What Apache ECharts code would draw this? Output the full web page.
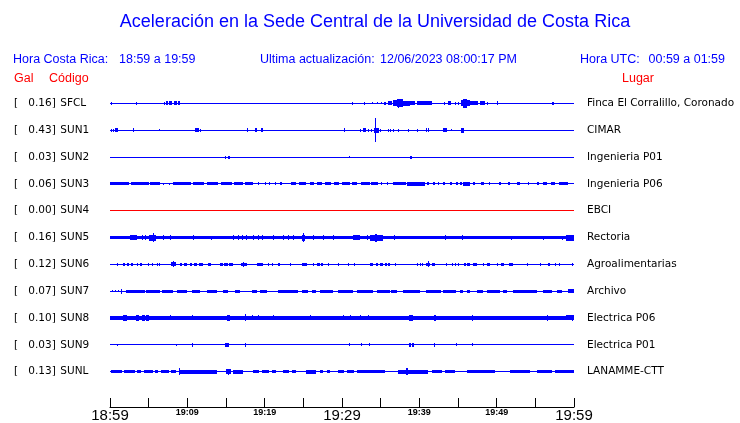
<!DOCTYPE html>
<html><head><meta charset="utf-8">
<script src="https://cdn.jsdelivr.net/npm/echarts@6/dist/echarts.min.js"></script>
<style>html,body{margin:0;padding:0;background:#fff}#c{width:740px;height:423px}</style>
</head><body><div id="c"></div>
<script>
// ---------- DATA ----------
const titleText = 'Aceleración en la Sede Central de la Universidad de Costa Rica';
const headerLocal = ['Hora Costa Rica:', '18:59 a 19:59'];
const headerUpdate = ['Ultima actualización:', '12/06/2023 08:00:17 PM'];
const headerUTC = ['Hora UTC:', '00:59 a 01:59'];
const colHeaders = ['Gal', 'Código', 'Lugar'];
const startMinute = 18 * 60 + 59;   // 18:59 local
const spanMinutes = 60;

const codes = ['SFCL','SUN1','SUN2','SUN3','SUN4','SUN5','SUN6','SUN7','SUN8','SUN9','SUNL'];
const galValues = ['0.16','0.43','0.03','0.06','0.00','0.16','0.12','0.07','0.10','0.03','0.13'];
const places = ['Finca El Corralillo, Coronado','CIMAR','Ingenieria P01','Ingenieria P06','EBCI',
  'Rectoria','Agroalimentarias','Archivo','Electrica P06','Electrica P01','LANAMME-CTT'];
// background noise half-amplitude per station (trace units, 27 per row)
const noiseFloor = [0.5,0.5,0.5,0.5,0.5,1.7,0.5,0.5,2.0,0.5,0.5];

// bursts per station: [start minute, end minute, half amplitude]
const evSFCL = [[0.1,0.1,1.5],[3.3,3.3,1.5],[7.0,7.0,1.5],[7.2,7.5,1.8],[7.6,8.0,1.8],[8.3,8.7,1.8],[8.8,9.05,1.8],
  [31.3,31.3,1.5],[32.8,33.0,1.5],[33.9,33.9,1.2],[34.5,34.5,1.2],[35.0,35.0,1.2],[35.4,35.7,1.5],
  [35.9,36.5,2],[36.6,37.1,3],[37.1,37.9,4],[37.3,37.4,4.5],[37.9,38.8,2.5],[38.8,39.5,2],[39.7,40.1,1.8],[40.1,41.6,2],
  [43.2,43.2,1.5],[43.7,44.1,2],[44.6,44.6,1.5],[45.0,45.0,1.5],[45.4,45.7,3],[45.7,46.1,4.5],[46.1,46.6,3],
  [46.6,47.6,2.2],[47.8,48.5,1.8],[48.7,48.7,1.5],[50.0,50.0,2],[57.2,57.45,1.5]];
const evSUN1 = [[0.1,0.1,1.5],[0.4,0.4,1.5],[0.7,1.0,2],[3.0,3.0,2],[6.35,6.35,1],[11.0,11.2,2],[11.3,11.5,2],[11.6,11.6,1.5],
  [17.75,17.75,2],[18.75,19.0,2],[19.5,19.8,2],[30.3,30.3,2],[32.3,32.3,1.5],[32.75,33.1,2],[33.4,33.4,1.5],[33.75,33.75,1.5],
  [34.1,34.75,2.5],[34.3,34.3,12.3],[34.9,34.9,1.5],[35.9,35.9,1.5],[36.2,36.2,1.5],[36.6,36.6,1.5],[37.25,37.25,1.5],
  [38.55,38.55,1.5],[39.65,39.65,1.5],[40.85,40.85,2],[41.1,41.1,2],[43.1,43.6,2],[44.1,44.1,1],[45.35,45.8,2.5]];
const evSUN2 = [[14.85,14.85,1.5],[15.2,15.5,1.5],[30.9,30.9,1],[38.85,39.0,1.5]];
const evSUN3 = [[0,2.5,1.5],[2.7,5.0,1.5],[5.2,6.5,1.4],[6.9,7.0,1.2],[7.6,7.8,1.2],[8.1,10.5,1.5],[10.7,12.2,1.5],
  [12.5,14.0,1.4],[14.3,15.8,1.5],[16.0,17.2,1.3],[17.5,18.5,1.5],[19.2,19.3,1.3],[20.0,20.1,1.3],[20.6,20.7,1.3],
  [21.3,21.4,1.3],[22.0,22.3,1.3],[23.4,24.0,1.4],[24.4,25.3,1.4],[25.8,26.4,1.4],[26.8,27.4,1.4],[27.8,28.6,1.4],
  [29.0,29.6,1.4],[30.0,31.0,1.5],[31.3,32.0,1.4],[32.4,33.6,1.5],[33.7,34.6,1.4],[35.0,35.2,1.3],[35.8,36.0,1.3],
  [36.6,38.3,1.6],[38.4,40.7,2],[41.0,41.2,1.4],[41.8,42.0,1.4],[42.4,42.6,1.3],[43.0,43.3,1.3],[44.0,44.2,1.3],
  [44.8,45.0,1.3],[45.3,45.5,1.3],[45.6,46.6,2],[47.0,47.2,1.3],[48.0,48.3,1.4],[49.0,49.2,1.3],[50.3,50.6,1.4],
  [51.5,51.7,1.3],[52.6,53.0,1.4],[54.0,54.2,1.3],[55.2,55.5,1.4],[56.0,56.5,1.5],[57.0,57.6,1.5],[58.0,59.2,1.6]];
const evSUN4 = [];
const evSUN5 = [[2.6,3.5,2.5],[4.1,4.1,2.5],[4.5,4.5,2.3],[5.0,6.0,3],[5.5,5.7,4.5],[6.9,6.9,2.5],[7.75,7.75,2.5],
  [10.7,10.7,2.5],[13.05,13.05,2.2],[15.9,15.9,2.5],[16.5,16.5,2.5],[17.1,17.1,2.5],[17.6,17.6,2.5],[18.5,18.5,2.5],
  [19.2,19.2,2.5],[19.6,19.6,2.5],[21.1,21.1,2.3],[22.4,22.4,2.5],[23.0,23.0,2.5],[23.6,23.6,2.3],[24.8,25.2,3],
  [24.9,25.1,4.5],[26.3,26.3,2.5],[27.6,27.6,2.5],[28.9,28.9,2.5],[31.4,32.3,2.5],[33.2,33.2,2.5],[33.6,35.3,3],
  [34.3,34.5,4.2],[36.7,36.7,2.5],[43.3,43.3,2.5],[45.5,45.5,2.5],[51.9,51.9,2.2],[56.0,56.0,2.2],[58.4,58.4,2.2],[59.0,60,2.8]];
const evSUN6 = [[0.85,0.85,1.3],[1.7,2.0,1.5],[2.2,2.5,1.5],[2.7,3.0,1.5],[3.5,3.6,1.5],[3.9,4.2,1.5],[4.9,5.0,1.5],
  [5.4,5.6,1.5],[6.1,6.2,1.3],[6.4,6.5,1.3],[7.9,8.5,2],[8.15,8.25,3],[9.0,9.3,1.5],[9.6,9.9,1.5],[10.3,10.6,1.5],
  [10.8,11.2,1.5],[11.5,12.0,1.5],[12.7,13.1,1.5],[14.2,14.6,1.5],[14.8,15.2,1.5],[15.4,15.9,1.5],[17.0,17.4,1.7],
  [17.2,17.3,2.5],[17.5,17.7,1.5],[19.0,19.8,1.5],[20.4,20.6,1.5],[20.9,21.1,1.5],[21.7,22.0,1.5],[23.3,23.4,1.3],
  [24.8,25.5,1.5],[26.2,26.4,1.5],[26.8,27.1,1.5],[27.3,27.5,1.5],[28.2,28.3,1.3],[29.5,29.6,1.5],[30.8,30.9,1.3],
  [31.6,31.7,1.3],[33.6,34.0,1.5],[34.4,34.6,1.5],[34.9,35.3,1.5],[35.5,35.8,1.5],[36.0,36.2,1.5],[36.9,37.0,1.5],
  [39.7,39.8,1.3],[40.1,40.2,1.3],[40.4,40.5,1.3],[40.9,41.4,1.7],[41.1,41.2,3],[41.6,42.0,1.5],[43.5,43.6,1.3],
  [44.2,44.3,1.3],[44.6,44.8,1.3],[45.0,45.1,1.3],[45.8,46.0,1.5],[46.2,46.6,1.5],[47.0,47.4,1.5],[48.2,48.4,1.3],
  [48.8,49.1,1.3],[50.0,50.2,1.3],[50.6,50.9,1.5],[51.6,52.1,1.5],[53.9,54.0,1.3],[55.6,55.7,1.3],[56.7,56.9,1.3],
  [57.5,57.6,1.3],[58.1,58.2,1.3],[59.7,59.8,1.3]];
const evSUN7 = [[0.2,0.3,1.2],[0.6,0.7,1.2],[1.0,1.1,1.2],[1.4,1.6,1.8],[1.45,1.55,2.5],[2.1,4.5,1.5],[4.7,6.5,1.5],
  [6.7,8.2,1.5],[8.6,9.9,1.5],[10.6,11.6,1.5],[12.5,13.8,1.5],[14.6,15.3,1.5],[16.2,16.8,1.5],[18.3,19.0,1.5],
  [19.4,20.3,1.5],[21.7,24.3,1.5],[24.8,25.6,1.5],[26.1,26.7,1.5],[27.2,28.8,1.5],[29.5,31.4,1.5],[31.9,33.6,1.5],
  [33.6,34.0,1.5],[34.5,36.2,1.5],[36.4,37.1,1.5],[37.9,40.1,1.5],[40.9,42.8,1.5],[43.0,44.8,1.5],[45.3,45.7,1.5],
  [46.1,46.6,1.5],[47.4,48.2,1.5],[48.7,50.4,1.5],[50.8,51.3,1.5],[52.1,55.2,1.5],[56.0,57.1,1.5],[57.8,58.4,1.5],[59.2,60,1.8]];
const evSUN8 = [[1.7,2.2,3],[3.4,3.7,3],[4.2,4.5,3],[4.7,5.0,3.2],[7.75,7.75,2.5],[10.55,10.55,2.5],[15.1,15.5,3],
  [17.4,17.65,3.5],[18.3,18.3,2.5],[19.2,19.2,2.5],[21.1,21.1,2.5],[25.85,25.85,2.5],[30.15,30.15,2.5],[31.0,31.0,2.5],
  [32.3,32.3,2.5],[33.4,33.4,2.5],[38.6,39.2,3],[41.9,42.1,3],[46.75,46.75,3],[56.45,56.45,3],[59.0,60,2.5],[59.7,59.7,3]];
const evSUN9 = [[0.85,0.85,1],[8.5,8.5,1.2],[10.6,10.6,1.8],[14.9,15.4,2],[17.4,17.6,2],[30.9,30.9,1.5],[32.5,32.5,1.5],
  [33.5,33.5,1.5],[38.7,38.9,2],[39.1,39.3,2],[41.9,41.9,1.8],[44.8,44.8,1.3],[46.75,46.75,1.3]];
const evSUNL = [[0.1,1.5,1.3],[1.8,3.2,1.5],[3.5,4.0,1.3],[4.4,5.5,1.5],[5.8,6.2,1.3],[6.6,7.6,1.5],[7.9,8.5,1.3],
  [8.95,9.05,3.5],[9.1,13.8,2],[15.0,15.6,2.5],[15.2,15.35,3.2],[15.9,17.2,1.8],[18.5,19.3,1.5],[19.7,20.5,1.5],
  [20.9,21.5,1.5],[22.4,23.2,1.5],[23.5,24.1,1.5],[25.4,26.7,2],[27.2,27.6,1.5],[28.0,28.4,1.5],[29.5,30.3,1.5],
  [30.7,31.6,1.5],[32.0,33.6,1.5],[33.6,35.5,1.5],[37.2,39.0,2.2],[38.3,38.5,3.5],[39.0,41.1,2],[41.6,42.9,1.5],
  [43.3,44.6,1.5],[46.1,49.8,1.7],[51.7,54.3,1.5],[55.2,57.1,1.5],[57.5,60,1.7]];
const stationEvents = [evSFCL, evSUN1, evSUN2, evSUN3, evSUN4, evSUN5, evSUN6, evSUN7, evSUN8, evSUN9, evSUNL];

// ---------- STYLE ----------
const BLUE = '#0000ff', RED = '#ff0000';
const traceColors = codes.map((c, i) => galValues[i] === '0.00' ? RED : BLUE);
const ROW_UNITS = 27;
const sansF = 'Liberation Sans, Arial, sans-serif';
const labF = 'DejaVu Sans, sans-serif';

// ---------- BUILD ----------
const rows = [];
codes.forEach((c, i) => {
  rows.push([0, spanMinutes, i, noiseFloor[i]]);
  stationEvents[i].forEach(e => rows.push([e[0], e[1], i, e[2]]));
});
function fmtTime(v) {
  const m = startMinute + v;
  const h = Math.floor(m / 60) % 24, mm = m % 60;
  return (h < 10 ? '0' : '') + h + ':' + (mm < 10 ? '0' : '') + mm;
}

const chart = echarts.init(document.getElementById('c'), null, {renderer: 'canvas'});
chart.setOption({
  animation: false,
  backgroundColor: '#fff',
  grid: {left: 110, right: 166, top: 90, height: 297, containLabel: false},
  xAxis: {
    type: 'value', min: 0, max: spanMinutes, interval: 5, offset: 22,
    axisLine: {show: true, lineStyle: {color: '#000', width: 1}},
    axisTick: {show: true, inside: true, length: 9, lineStyle: {color: '#000'}},
    splitLine: {show: false},
    axisLabel: {
      margin: 1, color: '#000', showMinLabel: true, showMaxLabel: true,
      formatter: v => (v % 10 ? '' : (v % 30 === 0 ? '{big|' + fmtTime(v) + '}' : '{small|' + fmtTime(v) + '}')),
      rich: {
        big: {fontFamily: sansF, fontSize: 15, lineHeight: 15, color: '#000'},
        small: {fontFamily: sansF, fontSize: 9, fontWeight: 'bold', lineHeight: 10, color: '#000'}
      }
    }
  },
  yAxis: [{
    type: 'category', data: codes, inverse: true, position: 'left',
    axisLine: {show: false}, axisTick: {show: false}, splitLine: {show: false},
    axisLabel: {
      interval: 0, align: 'left', margin: 96, color: '#000',
      formatter: (val, idx) => '{a|[}{v|' + galValues[idx] + ']}{c| ' + val + '}',
      rich: {
        a: {fontFamily: labF, fontSize: 10.5, width: 13, align: 'left', color: '#000'},
        v: {fontFamily: labF, fontSize: 10.5, width: 30, align: 'right', color: '#000'},
        c: {fontFamily: labF, fontSize: 10.5, color: '#000'}
      }
    }
  }, {
    type: 'category', data: places, inverse: true, position: 'right',
    axisLine: {show: false}, axisTick: {show: false}, splitLine: {show: false},
    axisLabel: {interval: 0, align: 'left', margin: 13, color: '#000', fontFamily: labF, fontSize: 10.5}
  }],
  series: [{
    type: 'custom',
    xAxisIndex: 0, yAxisIndex: 0,
    dimensions: ['t0', 't1', 'row', 'amp'],
    encode: {x: [0, 1], y: 2},
    clip: false,
    data: rows,
    renderItem: (params, api) => {
      const row = api.value(2);
      const p0 = api.coord([api.value(0), row]);
      const p1 = api.coord([api.value(1), row]);
      const unit = api.size([0, 1])[1] / ROW_UNITS;
      const h = Math.max(1, Math.round(2 * api.value(3) * unit));
      const x0 = Math.round(p0[0]);
      const w = Math.max(1, Math.round(p1[0]) - x0);
      const y = Math.round(p0[1] - h / 2);
      return {type: 'rect', shape: {x: x0, y: y, width: w, height: h}, style: {fill: traceColors[row]}};
    }
  }],
  graphic: [
    {type: 'text', x: 375, y: 22, style: {text: titleText, fill: BLUE, font: '18px ' + sansF, textAlign: 'center', textVerticalAlign: 'middle'}},
    {type: 'text', x: 13, y: 60, style: {text: headerLocal[0], fill: BLUE, font: '12.5px ' + sansF, textVerticalAlign: 'middle'}},
    {type: 'text', x: 119, y: 60, style: {text: headerLocal[1], fill: BLUE, font: '12.5px ' + sansF, textVerticalAlign: 'middle'}},
    {type: 'text', x: 260, y: 60, style: {text: headerUpdate[0], fill: BLUE, font: '12.5px ' + sansF, textVerticalAlign: 'middle'}},
    {type: 'text', x: 380, y: 60, style: {text: headerUpdate[1], fill: BLUE, font: '12.5px ' + sansF, textVerticalAlign: 'middle'}},
    {type: 'text', x: 580, y: 60, style: {text: headerUTC[0], fill: BLUE, font: '12.5px ' + sansF, textVerticalAlign: 'middle'}},
    {type: 'text', x: 725, y: 60, style: {text: headerUTC[1], fill: BLUE, font: '12.5px ' + sansF, textAlign: 'right', textVerticalAlign: 'middle'}},
    {type: 'text', x: 14, y: 79, style: {text: colHeaders[0], fill: RED, font: '12.5px ' + sansF, textVerticalAlign: 'middle'}},
    {type: 'text', x: 49, y: 79, style: {text: colHeaders[1], fill: RED, font: '12.5px ' + sansF, textVerticalAlign: 'middle'}},
    {type: 'text', x: 622, y: 79, style: {text: colHeaders[2], fill: RED, font: '12.5px ' + sansF, textVerticalAlign: 'middle'}}
  ]
});
</script>
</body></html>
